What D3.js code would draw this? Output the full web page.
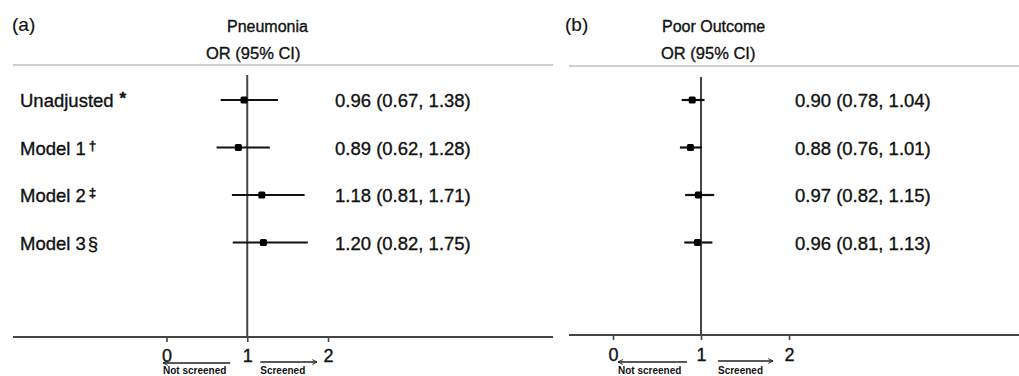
<!DOCTYPE html>
<html><head><meta charset="utf-8">
<script src="https://cdn.jsdelivr.net/npm/d3@7"></script>
<style>
body{margin:0;background:#fff}
svg{display:block}
text{font-family:"Liberation Sans",Arial,Helvetica,sans-serif;fill:#111;stroke:#111;stroke-width:0.35px}
</style>
</head><body>
<svg id="c" width="1019" height="376"></svg>
<script>
// ---- data ----
const rowLabels = ["Unadjusted", "Model 1", "Model 2", "Model 3"];
const rowMarks  = ["*", "\u2020", "\u2021", "\u00a7"];
const pneuOR = [0.96, 0.89, 1.18, 1.20];
const pneuLo = [0.67, 0.62, 0.81, 0.82];
const pneuHi = [1.38, 1.28, 1.71, 1.75];
const poorOR = [0.90, 0.88, 0.97, 0.96];
const poorLo = [0.78, 0.76, 0.82, 0.81];
const poorHi = [1.04, 1.01, 1.15, 1.13];
const tickValues = [0, 1, 2];
const panelTags = ["(a)", "(b)"];
const panelTitles = ["Pneumonia", "Poor Outcome"];
const subTitle = "OR (95% CI)";
const arrowLabels = ["Not screened", "Screened"];

// ---- layout ----
const svg = d3.select("#c");
const fmt = d3.format(".2f");
const y = d3.scaleLinear().domain([0, 3]).range([100, 242.5]);

const panels = [
  {tag: panelTags[0], title: panelTitles[0], or: pneuOR, lo: pneuLo, hi: pneuHi,
   lineX: [13, 553], xr: [166.5, 328], tagX: 12, titleX: 227, subX: 206, valX: 335,
   topY: 65, axisY: 337, vTop: 75, tickBase: 362, labels: true,
   arrL: [-3.5, -17], arrR: [13, -11], arrY: [363, 362]},
  {tag: panelTags[1], title: panelTitles[1], or: poorOR, lo: poorLo, hi: poorHi,
   lineX: [569, 1019], xr: [613, 789], tagX: 565, titleX: 662, subX: 661, valX: 795,
   topY: 66, axisY: 335, vTop: 77, tickBase: 361, labels: false,
   arrL: [5, -14], arrR: [17, -16], arrY: [362, 361]}
];

const defs = svg.append("defs");
defs.append("marker").attr("id", "ah").attr("viewBox", "0 0 10 10")
  .attr("refX", 9).attr("refY", 5).attr("markerWidth", 6).attr("markerHeight", 6)
  .attr("orient", "auto-start-reverse").attr("markerUnits", "userSpaceOnUse")
  .append("path").attr("d", "M1,1 L9,5 L1,9").attr("fill", "none")
  .attr("stroke", "#222").attr("stroke-width", 1.6);

panels.forEach(p => {
  const x = d3.scaleLinear().domain([0, 2]).range(p.xr);
  const g = svg.append("g");

  // headers
  g.append("text").attr("x", p.tagX).attr("y", 31).attr("font-size", 19).style("stroke-width", "0.15px").text(p.tag);
  g.append("text").attr("x", p.titleX).attr("y", 32).attr("font-size", 16).text(p.title);
  g.append("text").attr("x", p.subX).attr("y", 59).attr("font-size", 16.5).text(subTitle);

  // top rule
  g.append("line").attr("x1", p.lineX[0]).attr("x2", p.lineX[1])
    .attr("y1", p.topY).attr("y2", p.topY).attr("stroke", "#bdbdbd").attr("stroke-width", 1.4);

  // bottom axis line
  g.append("line").attr("x1", p.lineX[0]).attr("x2", p.lineX[1])
    .attr("y1", p.axisY).attr("y2", p.axisY).attr("stroke", "#444").attr("stroke-width", 2);

  // ticks via d3 axis
  const ax = g.append("g").attr("transform", `translate(0,${p.axisY})`)
    .call(d3.axisBottom(x).tickValues(tickValues).tickSize(5).tickFormat(d3.format("d")));
  ax.select(".domain").remove();
  ax.selectAll(".tick line").attr("stroke", "#444").attr("stroke-width", 1.6);
  ax.selectAll(".tick text").attr("y", p.tickBase - p.axisY).attr("dy", 0)
    .attr("font-size", 18).attr("fill", "#111")
    .style("font-family", '"Liberation Sans",Arial,sans-serif');

  // reference line at OR = 1
  g.append("line").attr("x1", x(1)).attr("x2", x(1))
    .attr("y1", p.vTop).attr("y2", p.axisY).attr("stroke", "#444").attr("stroke-width", 2);

  // CI lines
  g.selectAll(".ci").data(p.or).join("line")
    .attr("x1", (d, i) => x(p.lo[i])).attr("x2", (d, i) => x(p.hi[i]))
    .attr("y1", (d, i) => y(i)).attr("y2", (d, i) => y(i))
    .attr("stroke", "#111").attr("stroke-width", 2.2);

  // point estimates
  g.selectAll(".pt").data(p.or).join("rect")
    .attr("x", d => x(d) - 3.5).attr("y", (d, i) => y(i) - 3.5)
    .attr("width", 7).attr("height", 7).attr("rx", 1.5).attr("fill", "#000");

  // value texts
  g.selectAll(".val").data(p.or).join("text")
    .attr("x", p.valX).attr("y", (d, i) => y(i) + 7).attr("font-size", 18.5)
    .text((d, i) => `${fmt(d)} (${fmt(p.lo[i])}, ${fmt(p.hi[i])})`);

  // row labels
  if (p.labels) {
    rowLabels.forEach((lab, i) => {
      const t = g.append("text").attr("x", 20).attr("y", y(i) + 7).attr("font-size", 18.5).text(lab);
      const w = t.node().getComputedTextLength();
      const m = rowMarks[i];
      let dx, dy, fs, fw;
      if (i === 0)      { dx = 6; dy = -3; fs = 17; fw = "bold"; }
      else if (i < 3)   { dx = 3; dy = -5; fs = 13.5; fw = "bold"; }
      else              { dx = 2; dy = 0;  fs = 18.5; fw = "normal"; }
      g.append("text").attr("x", 20 + w + dx).attr("y", y(i) + 7 + dy)
        .attr("font-size", fs).attr("font-weight", fw).text(m);
    });
  }

  // direction arrows
  g.append("line").attr("x1", x(1) + p.arrL[1]).attr("x2", x(0) + p.arrL[0])
    .attr("y1", p.arrY[0]).attr("y2", p.arrY[0]).attr("stroke", "#222").attr("stroke-width", 1.4)
    .attr("marker-end", "url(#ah)");
  g.append("line").attr("x1", x(1) + p.arrR[0]).attr("x2", x(2) + p.arrR[1])
    .attr("y1", p.arrY[1]).attr("y2", p.arrY[1]).attr("stroke", "#222").attr("stroke-width", 1.4)
    .attr("marker-end", "url(#ah)");
  g.append("text").attr("x", x(0) + p.arrL[0]).attr("y", 373.8).attr("font-size", 10)
    .attr("font-weight", "bold").style("stroke-width", "0px").text(arrowLabels[0]);
  g.append("text").attr("x", x(1) + p.arrR[0]).attr("y", 373.8).attr("font-size", 10)
    .attr("font-weight", "bold").style("stroke-width", "0px").text(arrowLabels[1]);
});
</script>
</body></html>
